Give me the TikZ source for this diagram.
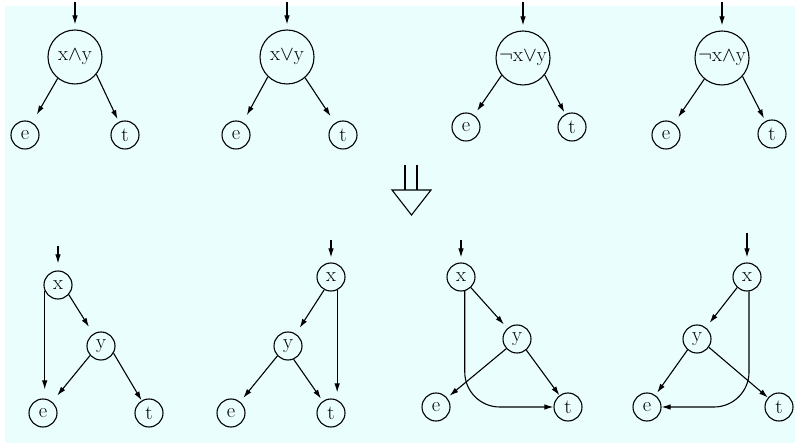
\documentclass[tikz,border=0pt]{standalone}
\usetikzlibrary{arrows.meta}
\definecolor{bgc}{RGB}{234,254,254}
\begin{document}
\begin{tikzpicture}[x=1pt,y=-1pt,
  every node/.style={font=\fontsize{20.5}{24}\selectfont},
  big/.style={circle,draw,line width=1.1pt,minimum size=54pt,inner sep=0pt},
  small/.style={circle,draw,line width=1.1pt,minimum size=28pt,inner sep=0pt},
  arr/.style={-{Latex[length=9pt,width=5.5pt]},line width=1.1pt}]
\useasboundingbox (0,0) rectangle (795,443);
\fill[bgc] (5,6) rectangle (795,443);

% ---------- top row ----------
\node[big] (b1) at (75,57) {x$\wedge$y};
\node[small] (e1) at (25,135) {e};
\node[small] (t1) at (125,135) {t};
\node[big] (b2) at (287,57) {x$\vee$y};
\node[small] (e2) at (236,135) {e};
\node[small] (t2) at (343,135) {t};
\node[big] (b3) at (523,58) {$\neg$x$\vee$y};
\node[small] (e3) at (466,127) {e};
\node[small] (t3) at (572,127) {t};
\node[big] (b4) at (722,58) {$\neg$x$\wedge$y};
\node[small] (e4) at (666,135) {e};
\node[small] (t4) at (772,134) {t};

\coordinate (i1) at (75,2);
\coordinate (i2) at (287,2);
\coordinate (i3) at (523,2);
\coordinate (i4) at (722,2);
\foreach \n in {1,2,3,4}{\draw[arr,shorten >=5pt] (i\n) -- (b\n);}

\draw[arr,shorten >=9pt] (b1.231) -- (e1);
\draw[arr,shorten >=3pt] (b1.-39) -- (t1);
\draw[arr,shorten >=8pt] (b2.226) -- (e2);
\draw[arr,shorten >=8pt] (b2.-49) -- (t2);
\draw[arr,shorten >=5pt] (b3.219) -- (e3);
\draw[arr,shorten >=2pt] (b3.-38) -- (t3);
\draw[arr,shorten >=7pt] (b4.230) -- (e4);
\draw[arr,shorten >=3pt] (b4.-42) -- (t4);

% ---------- transformation arrow ----------
\draw[line width=1.1pt] (405,165) -- (405,190) (417,165) -- (417,190);
\draw[line width=1.1pt,line join=miter] (392,190) -- (431,190) -- (411.5,215) -- cycle;

% ---------- bottom row ----------
% 1
\node[small] (x5) at (58,285) {x};
\node[small] (y5) at (101,346) {y};
\node[small] (e5) at (43,413) {e};
\node[small] (t5) at (149,413) {t};
\coordinate (i5) at (58,246);
\draw[arr,shorten >=7pt] (i5) -- (x5);
\draw[arr,shorten >=9pt] (x5.204) -- (x5.204 |- e5.north);
\draw[arr,shorten >=8pt] (x5.-42) -- (y5);
\draw[arr,shorten >=8pt] (y5.221) -- (e5);
\draw[arr,shorten >=0pt] (y5.-30) -- (t5);
% 2
\node[small] (x6) at (331,277) {x};
\node[small] (y6) at (288,346) {y};
\node[small] (e6) at (231,413) {e};
\node[small] (t6) at (331,413) {t};
\coordinate (i6) at (331,240);
\draw[arr,shorten >=5pt] (i6) -- (x6);
\draw[arr,shorten >=7pt] (x6.242) -- (y6);
\draw[arr,shorten >=6pt] (x6.-65) -- (x6.-65 |- t6.north);
\draw[arr,shorten >=5pt] (y6.223) -- (e6);
\draw[arr,shorten >=3pt] (y6.-67) -- (t6);
% 3
\node[small] (x7) at (461,277) {x};
\node[small] (y7) at (517,339) {y};
\node[small] (e7) at (436,407) {e};
\node[small] (t7) at (568,407) {t};
\coordinate (i7) at (461,240);
\draw[arr,shorten >=5pt] (i7) -- (x7);
\draw[arr,shorten >=5pt] (x7.-47) -- (y7);
\draw[arr,rounded corners=35pt] (x7.-75) |- (t7.west);
\draw[arr,shorten >=3pt] (y7.222) -- (e7);
\draw[arr,shorten >=0pt] (y7.-50) -- (t7);
% 4
\node[small] (x8) at (747,277) {x};
\node[small] (y8) at (697,339) {y};
\node[small] (e8) at (647,407) {e};
\node[small] (t8) at (779,407) {t};
\coordinate (i8) at (747,233);
\draw[arr,shorten >=5pt] (i8) -- (x8);
\draw[arr,shorten >=6pt] (x8.227) -- (y8);
\draw[arr,rounded corners=35pt] (x8.-82) |- (e8.east);
\draw[arr,shorten >=3pt] (y8.229) -- (e8);
\draw[arr,shorten >=0pt] (y8.-35) -- (t8);
\end{tikzpicture}
\end{document}
